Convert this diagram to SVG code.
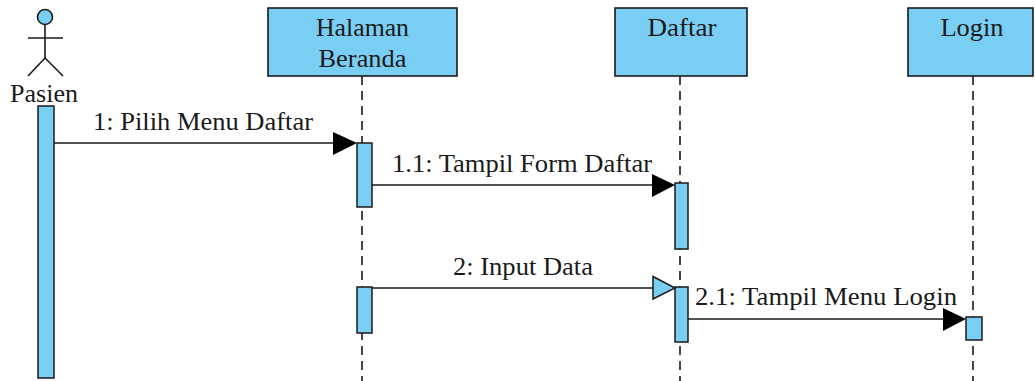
<svg xmlns="http://www.w3.org/2000/svg" width="1035" height="381" viewBox="0 0 1035 381">
<style>
.box{fill:#7ACEF4;stroke:#1a1a1a;stroke-width:1.6}
.act{fill:#7ACEF4;stroke:#1a1a1a;stroke-width:1.5}
.life{stroke:#1a1a1a;stroke-width:1.6;stroke-dasharray:9 6;fill:none}
.msg{stroke:#1a1a1a;stroke-width:1.6;fill:none}
.t{font-family:'Liberation Serif','Times New Roman',serif;font-size:26px;fill:#1a1a1a}
.head{fill:#000}
.open{fill:#7ACEF4;stroke:#1a1a1a;stroke-width:1.5}
.stick{stroke:#1a1a1a;stroke-width:1.6;fill:none}
</style>
<rect width="1035" height="381" fill="#fff"/>
<g id="pasien">
<circle cx="45" cy="17" r="7.5" class="box"/>
<line x1="45" y1="24.5" x2="45" y2="58" class="stick"/>
<line x1="28" y1="38" x2="63" y2="38" class="stick"/>
<line x1="45" y1="58" x2="28" y2="76" class="stick"/>
<line x1="45" y1="58" x2="63" y2="76" class="stick"/>
<text x="44" y="102" text-anchor="middle" class="t" textLength="68" lengthAdjust="spacingAndGlyphs">Pasien</text>
<rect x="38" y="106" width="16" height="272" class="act"/>
</g>
<g id="halaman-beranda">
<rect x="268" y="8" width="189" height="68" class="box"/>
<text x="362.5" y="36" text-anchor="middle" class="t" textLength="93" lengthAdjust="spacingAndGlyphs">Halaman</text>
<text x="362.5" y="67" text-anchor="middle" class="t" textLength="88" lengthAdjust="spacingAndGlyphs">Beranda</text>
<line x1="362" y1="76" x2="362" y2="381" class="life"/>
<rect x="357" y="143" width="15" height="64" class="act"/>
<rect x="357" y="287" width="15" height="46" class="act"/>
</g>
<g id="daftar">
<rect x="615" y="8" width="132" height="68" class="box"/>
<text x="682" y="36" text-anchor="middle" class="t" textLength="69" lengthAdjust="spacingAndGlyphs">Daftar</text>
<line x1="680" y1="76" x2="680" y2="381" class="life"/>
<rect x="675" y="183" width="13" height="66" class="act"/>
<rect x="675" y="287" width="13" height="55" class="act"/>
</g>
<g id="login">
<rect x="908" y="8" width="125" height="68" class="box"/>
<text x="972" y="36" text-anchor="middle" class="t" textLength="63" lengthAdjust="spacingAndGlyphs">Login</text>
<line x1="973" y1="76" x2="973" y2="381" class="life"/>
<rect x="966" y="317" width="16" height="23" class="act"/>
</g>
<g id="connectors">
<line x1="54" y1="143" x2="340" y2="143" class="msg"/>
<polygon points="333,132 357,143 333,155" class="head"/>
<text x="93" y="130" class="t" textLength="220" lengthAdjust="spacingAndGlyphs">1: Pilih Menu Daftar</text>
<line x1="372" y1="185" x2="660" y2="185" class="msg"/>
<polygon points="652,174 675,185 652,197" class="head"/>
<text x="392" y="172" class="t" textLength="260" lengthAdjust="spacingAndGlyphs">1.1: Tampil Form Daftar</text>
<line x1="372" y1="288" x2="653" y2="288" class="msg"/>
<polygon points="653,276.5 675,288 653,299" class="open"/>
<text x="453" y="275" class="t" textLength="140" lengthAdjust="spacingAndGlyphs">2: Input Data</text>
<line x1="688" y1="319" x2="950" y2="319" class="msg"/>
<polygon points="943,308 966,319 943,331" class="head"/>
<text x="695" y="305" class="t" textLength="262" lengthAdjust="spacingAndGlyphs">2.1: Tampil Menu Login</text>
</g>
</svg>
